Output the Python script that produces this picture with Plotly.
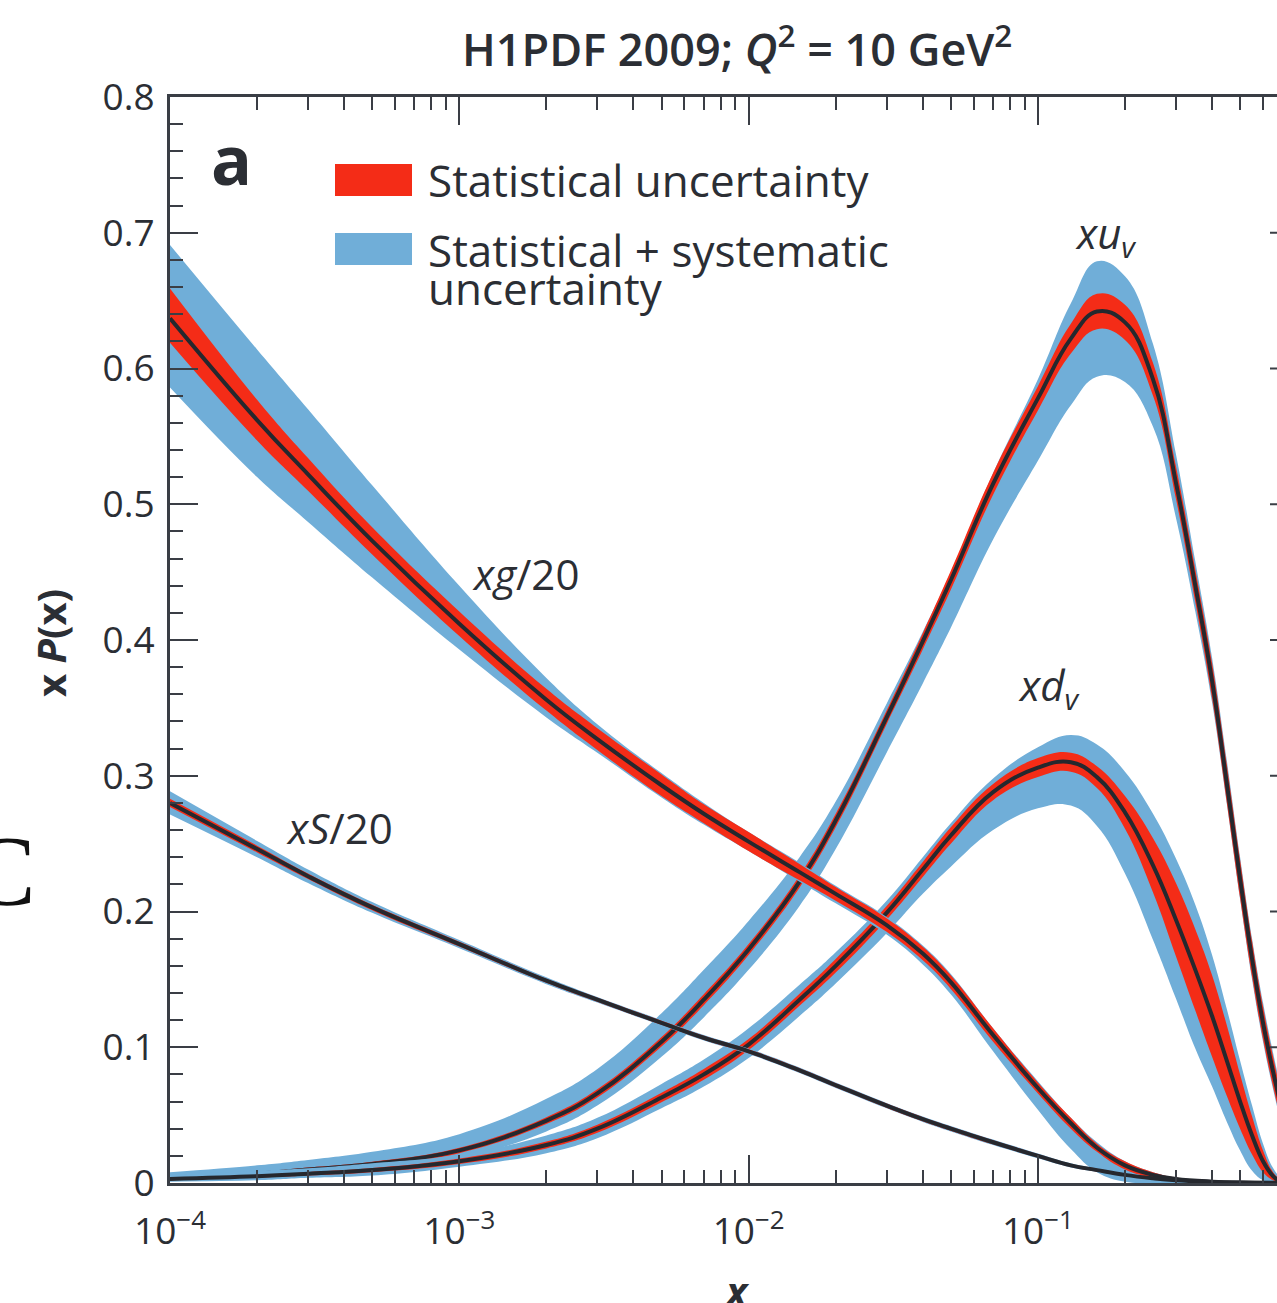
import numpy as np
import plotly.graph_objects as go

# ---------------------------------------------------------------------------
# Parton distributions at Q^2 = 10 GeV^2 (central value, statistical and
# total uncertainty, given as upward / downward offsets from the central value)
# ---------------------------------------------------------------------------

# gluon / 20 and sea / 20
x_gs = [1e-4, 2e-4, 3e-4, 5e-4, 1e-3, 2e-3, 3e-3, 5e-3, 7e-3, 1e-2, 1.5e-2, 2e-2,
        3e-2, 4e-2, 5e-2, 7e-2, 0.1, 0.13, 0.16, 0.2, 0.25, 0.3, 0.4, 0.5, 0.7]

xg_c = [0.637, 0.562, 0.522, 0.473, 0.412, 0.356, 0.327, 0.293, 0.272, 0.2515, 0.229, 0.213,
        0.190, 0.169, 0.148, 0.109, 0.070, 0.044, 0.026, 0.013, 0.006, 0.003, 0.001, 0.0003, 0.0001]
xg_stat_up = [0.022, 0.015, 0.012, 0.010, 0.009, 0.008, 0.008, 0.008, 0.007, 0.007, 0.006, 0.005,
              0.005, 0.005, 0.005, 0.005, 0.004, 0.004, 0.003, 0.003, 0.002, 0.001, 0.0005, 0.0002, 0.0]
xg_stat_dn = [0.018, 0.015, 0.012, 0.010, 0.009, 0.008, 0.008, 0.008, 0.007, 0.007, 0.006, 0.005,
              0.005, 0.005, 0.005, 0.005, 0.004, 0.004, 0.003, 0.003, 0.002, 0.001, 0.0005, 0.0002, 0.0]
xg_tot_up = [0.054, 0.052, 0.048, 0.041, 0.028, 0.016, 0.011, 0.009, 0.008, 0.007, 0.007, 0.006,
             0.006, 0.006, 0.006, 0.005, 0.005, 0.004, 0.004, 0.003, 0.002, 0.001, 0.0005, 0.0002, 0.0]
xg_tot_dn = [0.051, 0.042, 0.035, 0.027, 0.019, 0.013, 0.010, 0.009, 0.008, 0.007, 0.007, 0.007,
             0.007, 0.008, 0.009, 0.012, 0.016, 0.019, 0.018, 0.012, 0.006, 0.003, 0.001, 0.0003, 0.0001]

xs_c = [0.280, 0.246, 0.226, 0.203, 0.176, 0.149, 0.135, 0.118, 0.107, 0.097, 0.083, 0.072,
        0.057, 0.047, 0.040, 0.030, 0.020, 0.013, 0.0095, 0.006, 0.0035, 0.002, 0.0008, 0.0003, 0.0]
xs_stat = [0.003, 0.0025, 0.002, 0.002, 0.0018, 0.0015, 0.0015, 0.0015, 0.0015, 0.0015, 0.0015, 0.0015,
           0.0015, 0.0015, 0.0015, 0.0015, 0.0012, 0.001, 0.001, 0.0008, 0.0005, 0.0003, 0.0001, 0.0, 0.0]
xs_tot = [0.0085, 0.006, 0.005, 0.004, 0.003, 0.0025, 0.002, 0.002, 0.002, 0.002, 0.002, 0.002,
          0.002, 0.002, 0.002, 0.002, 0.0018, 0.0015, 0.0012, 0.001, 0.0006, 0.0004, 0.0002, 0.0001, 0.0]

# valence quarks
x_val = [1e-4, 2e-4, 3e-4, 5e-4, 1e-3, 2e-3, 3e-3, 5e-3, 7e-3, 1e-2, 1.5e-2, 2e-2, 3e-2, 4e-2, 5e-2,
         7e-2, 0.1, 0.13, 0.16, 0.2, 0.25, 0.3, 0.35, 0.4, 0.45, 0.5, 0.55, 0.6, 0.65, 0.7]

xuv_c = [0.004, 0.007, 0.010, 0.014, 0.024, 0.046, 0.066, 0.104, 0.135, 0.172, 0.222, 0.267, 0.343, 0.399, 0.444,
         0.515, 0.578, 0.622, 0.642, 0.634, 0.592, 0.516, 0.440, 0.370, 0.294, 0.224, 0.165, 0.118, 0.082, 0.052]
xuv_stat = [0.001, 0.0012, 0.0014, 0.0017, 0.002, 0.0025, 0.003, 0.0035, 0.004, 0.004, 0.0045, 0.005, 0.005, 0.006, 0.007,
            0.008, 0.009, 0.011, 0.013, 0.013, 0.012, 0.012, 0.012, 0.013, 0.014, 0.014, 0.013, 0.012, 0.011, 0.010]
xuv_tot_up = [0.004, 0.006, 0.007, 0.009, 0.012, 0.016, 0.018, 0.021, 0.022, 0.021, 0.018, 0.014, 0.010, 0.007, 0.006,
              0.008, 0.014, 0.026, 0.037, 0.034, 0.026, 0.021, 0.018, 0.017, 0.017, 0.016, 0.015, 0.015, 0.014, 0.013]
xuv_tot_dn = [0.002, 0.003, 0.004, 0.005, 0.006, 0.008, 0.009, 0.011, 0.013, 0.015, 0.018, 0.021, 0.026, 0.031, 0.035,
              0.041, 0.046, 0.049, 0.048, 0.044, 0.035, 0.026, 0.019, 0.016, 0.015, 0.015, 0.015, 0.014, 0.013, 0.012]

xdv_c = [0.003, 0.005, 0.0068, 0.0095, 0.016, 0.028, 0.040, 0.063, 0.080, 0.102, 0.135, 0.160, 0.199, 0.231, 0.256,
         0.288, 0.306, 0.310, 0.299, 0.273, 0.234, 0.194, 0.157, 0.123, 0.090, 0.060, 0.035, 0.016, 0.005, 0.0]
xdv_stat = [0.001, 0.001, 0.0012, 0.0015, 0.002, 0.0025, 0.003, 0.0035, 0.004, 0.004, 0.0045, 0.005, 0.005, 0.0055, 0.006,
            0.006, 0.007, 0.007, 0.008, 0.012, 0.020, 0.027, 0.030, 0.030, 0.026, 0.020, 0.014, 0.008, 0.003, 0.001]
xdv_tot_up = [0.003, 0.004, 0.004, 0.005, 0.005, 0.007, 0.008, 0.010, 0.011, 0.012, 0.011, 0.010, 0.009, 0.009, 0.009,
              0.010, 0.015, 0.020, 0.024, 0.030, 0.038, 0.045, 0.048, 0.045, 0.038, 0.030, 0.022, 0.013, 0.006, 0.002]
xdv_tot_dn = [0.002, 0.003, 0.003, 0.004, 0.004, 0.006, 0.007, 0.008, 0.009, 0.010, 0.012, 0.013, 0.015, 0.018, 0.023,
              0.028, 0.030, 0.032, 0.036, 0.045, 0.055, 0.058, 0.058, 0.052, 0.045, 0.036, 0.026, 0.014, 0.005, 0.0]

# axis ticks
x_major = [1e-4, 1e-3, 1e-2, 1e-1]
x_major_text = ["10<sup>\u22124</sup>", "10<sup>\u22123</sup>", "10<sup>\u22122</sup>", "10<sup>\u22121</sup>"]
x_minor = [m * d for d in (1e-4, 1e-3, 1e-2, 1e-1) for m in range(2, 10)]
y_major = [0, 0.1, 0.2, 0.3, 0.4, 0.5, 0.6, 0.7, 0.8]
y_major_text = ["0", "0.1", "0.2", "0.3", "0.4", "0.5", "0.6", "0.7", "0.8"]

# ---------------------------------------------------------------------------
W, H = 1277, 1303
ML, MR, MT, MB = 170, 0, 97, 120
PW, PH = W - ML - MR, H - MT - MB
DECADE_PX = 289.3

BLUE = "#70aed8"
RED = "#f42c17"
DARK = "#25282e"
AXIS = "#3a3e45"
TEXT = "#2b2e34"
FONT = "Open Sans"
SMOOTH = 1.2


def fx(p):
    """page pixel x -> paper x"""
    return (p - ML) / PW


def fy(p):
    """page pixel y -> paper y"""
    return (H - MB - p) / PH


fig = go.Figure()


def band(x, lo, hi, color):
    fig.add_trace(go.Scatter(x=x, y=lo, mode="lines", line=dict(width=0, shape="spline", smoothing=SMOOTH),
                             hoverinfo="skip", showlegend=False))
    fig.add_trace(go.Scatter(x=x, y=hi, mode="lines", line=dict(width=0, shape="spline", smoothing=SMOOTH),
                             fill="tonexty", fillcolor=color, hoverinfo="skip", showlegend=False))


def pdf(x, c, s_up, s_dn, t_up, t_dn):
    c = np.asarray(c)
    band(x, np.clip(c - np.asarray(t_dn), 0, None), c + np.asarray(t_up), BLUE)
    band(x, np.clip(c - np.asarray(s_dn), 0, None), c + np.asarray(s_up), RED)
    fig.add_trace(go.Scatter(x=x, y=c, mode="lines",
                             line=dict(color=DARK, width=4, shape="spline", smoothing=SMOOTH),
                             hoverinfo="skip", showlegend=False))


pdf(x_val, xuv_c, xuv_stat, xuv_stat, xuv_tot_up, xuv_tot_dn)
pdf(x_val, xdv_c, xdv_stat, xdv_stat, xdv_tot_up, xdv_tot_dn)
pdf(x_gs, xg_c, xg_stat_up, xg_stat_dn, xg_tot_up, xg_tot_dn)
pdf(x_gs, xs_c, xs_stat, xs_stat, xs_tot, xs_tot)

axis_common = dict(showgrid=False, zeroline=False, showline=True, linecolor=AXIS, linewidth=3,
                   ticks="inside", ticklen=28, tickwidth=2, tickcolor=AXIS,
                   tickfont=dict(family=FONT, size=37, color=TEXT))

fig.update_xaxes(type="log", range=[-4, -4 + PW / DECADE_PX],
                 tickvals=x_major, ticktext=x_major_text, mirror="ticks", ticklabelstandoff=14,
                 minor=dict(tickvals=x_minor, ticks="inside", ticklen=13, tickwidth=2, tickcolor=AXIS),
                 **axis_common)
fig.update_yaxes(range=[0, 0.8], tickvals=y_major, ticktext=y_major_text, ticklabelstandoff=5,
                 minor=dict(dtick=0.02, ticks="inside", ticklen=13, tickwidth=2, tickcolor=AXIS),
                 **axis_common)

shapes = []
# stubs of the right-hand frame ticks
for v in y_major[1:-1]:
    shapes.append(dict(type="line", xref="paper", yref="y", x0=fx(1270), x1=1.0, y0=v, y1=v,
                       line=dict(color=AXIS, width=2)))
# legend swatches
shapes.append(dict(type="rect", xref="paper", yref="paper", x0=fx(335), x1=fx(412), y0=fy(196), y1=fy(164),
                   fillcolor=RED, line=dict(width=0)))
shapes.append(dict(type="rect", xref="paper", yref="paper", x0=fx(335), x1=fx(412), y0=fy(265), y1=fy(233),
                   fillcolor=BLUE, line=dict(width=0)))


def note(text, xp, yp, size, xanchor="center", weight="normal", family=FONT, color=TEXT, angle=0):
    return dict(text=text, xref="paper", yref="paper", x=fx(xp), y=fy(yp), xanchor=xanchor, yanchor="middle",
                showarrow=False, textangle=angle,
                font=dict(family=family, size=size, color=color, weight=weight))


annotations = [
    note("H1PDF 2009; <i>Q</i><sup>2</sup> = 10 GeV<sup>2</sup>", 737, 46, 45, weight=600),
    note("a", 231, 159, 68, weight="bold"),
    note("Statistical uncertainty", 426, 180, 44, xanchor="left"),
    note("Statistical + systematic", 426, 250, 44, xanchor="left"),
    note("uncertainty", 426, 288, 44, xanchor="left"),
    note("<i>xg</i>/20", 525, 573, 42),
    note("<i>xS</i>/20", 339, 827, 42),
    note("<i>xu</i><sub><i>v</i></sub>", 1105, 236, 42),
    note("<i>xd</i><sub><i>v</i></sub>", 1048, 687, 42),
    note("<b>x</b> <b><i>P</i>(x)</b>", 51, 643, 40, angle=-90),
    note("<b><i>x</i></b>", 737, 1290, 40),
    note("C", 38, 870, 100, xanchor="right", family="Liberation Serif", color="#111111"),
]

fig.update_layout(width=W, height=H, margin=dict(l=ML, r=MR, t=MT, b=MB, pad=0),
                  paper_bgcolor="white", plot_bgcolor="white", showlegend=False,
                  shapes=shapes, annotations=annotations)

fig.write_html("out.html")
